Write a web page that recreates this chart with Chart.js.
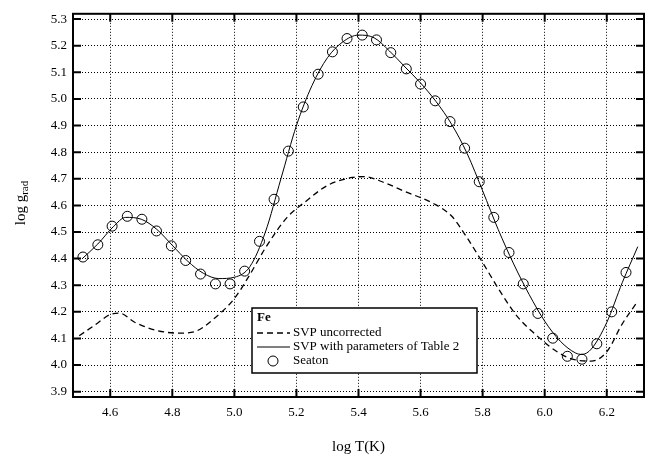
<!DOCTYPE html>
<html>
<head>
<meta charset="utf-8">
<script src="https://cdn.jsdelivr.net/npm/chart.js@4.4.0/dist/chart.umd.min.js"></script>
<style>
html, body { margin: 0; padding: 0; background: #fff; }
#wrap { width: 660px; height: 462px; }
</style>
</head>
<body>
<div id="wrap"><canvas id="myChart" width="660" height="462"></canvas></div>
<script>
// tick labels
var xTicks = [4.6, 4.8, 5.0, 5.2, 5.4, 5.6, 5.8, 6.0, 6.2];
var yTicks = [3.9, 4.0, 4.1, 4.2, 4.3, 4.4, 4.5, 4.6, 4.7, 4.8, 4.9, 5.0, 5.1, 5.2, 5.3];

// Seaton points (log T, log g_rad)
var seatonT = [4.512, 4.560, 4.606, 4.655, 4.702, 4.749, 4.797, 4.843, 4.891, 4.939, 4.986, 5.033, 5.081,
    5.128, 5.174, 5.222, 5.270, 5.316, 5.363, 5.412, 5.458, 5.504, 5.554, 5.600, 5.647, 5.695, 5.742,
    5.789, 5.836, 5.885, 5.931, 5.978, 6.026, 6.073, 6.120, 6.168, 6.216, 6.262];
var seatonG = [4.406, 4.452, 4.522, 4.559, 4.548, 4.504, 4.448, 4.393, 4.342, 4.305, 4.305, 4.353, 4.465,
    4.623, 4.804, 4.970, 5.093, 5.177, 5.227, 5.240, 5.222, 5.174, 5.113, 5.056, 4.993, 4.915, 4.815,
    4.689, 4.555, 4.423, 4.305, 4.194, 4.101, 4.033, 4.022, 4.080, 4.200, 4.348];

// SVP with parameters of Table 2
var svpT = [4.51, 4.56, 4.61, 4.65, 4.70, 4.75, 4.80, 4.85, 4.90, 4.95, 5.00, 5.05, 5.10, 5.15, 5.20,
    5.25, 5.30, 5.35, 5.40, 5.45, 5.50, 5.55, 5.60, 5.65, 5.70, 5.75, 5.80, 5.85, 5.90, 5.95, 6.00,
    6.05, 6.10, 6.12, 6.15, 6.20, 6.25, 6.30];
var svpG = [4.400, 4.455, 4.520, 4.555, 4.548, 4.510, 4.450, 4.390, 4.345, 4.325, 4.330, 4.370, 4.500,
    4.700, 4.900, 5.050, 5.155, 5.215, 5.240, 5.230, 5.180, 5.120, 5.060, 4.990, 4.905, 4.795, 4.655,
    4.510, 4.380, 4.265, 4.165, 4.090, 4.045, 4.040, 4.060, 4.160, 4.310, 4.445];

// SVP uncorrected
var rawT = [4.50, 4.55, 4.60, 4.63, 4.68, 4.75, 4.82, 4.87, 4.94, 5.00, 5.05, 5.10, 5.17, 5.23, 5.30,
    5.38, 5.42, 5.48, 5.55, 5.64, 5.70, 5.75, 5.80, 5.86, 5.91, 5.98, 6.04, 6.09, 6.15, 6.20, 6.25, 6.30];
var rawG = [4.110, 4.150, 4.190, 4.195, 4.160, 4.130, 4.120, 4.125, 4.180, 4.250, 4.340, 4.440, 4.555,
    4.615, 4.675, 4.705, 4.708, 4.687, 4.652, 4.608, 4.560, 4.478, 4.385, 4.270, 4.185, 4.105, 4.050,
    4.022, 4.015, 4.050, 4.155, 4.240];

function pts(xs, ys) {
    return xs.map(function (x, i) { return { x: x, y: ys[i] }; });
}

var serif = '"Liberation Serif", "DejaVu Serif", serif';

// frame, inward ticks on all sides, axis titles and the boxed legend
var decor = {
    id: 'decor',
    afterDraw: function (chart) {
        var c = chart.ctx, a = chart.chartArea;
        var sx = chart.scales.x, sy = chart.scales.y;
        c.save();
        c.strokeStyle = '#000';
        c.lineWidth = 2;
        c.setLineDash([]);
        c.strokeRect(a.left, a.top, a.right - a.left, a.bottom - a.top);
        c.beginPath();
        xTicks.forEach(function (v) {
            var px = sx.getPixelForValue(v);
            c.moveTo(px, a.bottom); c.lineTo(px, a.bottom - 8);
            c.moveTo(px, a.top); c.lineTo(px, a.top + 8);
        });
        yTicks.forEach(function (v) {
            var py = sy.getPixelForValue(v);
            c.moveTo(a.left, py); c.lineTo(a.left + 8, py);
            c.moveTo(a.right, py); c.lineTo(a.right - 8, py);
        });
        c.stroke();

        // titles
        c.fillStyle = '#000';
        c.font = '15px ' + serif;
        c.textAlign = 'center';
        c.textBaseline = 'middle';
        c.fillText('log T(K)', (a.left + a.right) / 2, 447);

        c.save();
        c.translate(21, 203);
        c.rotate(-Math.PI / 2);
        c.textAlign = 'left';
        c.textBaseline = 'alphabetic';
        var main = 'log g';
        c.font = '15px ' + serif;
        var w1 = c.measureText(main).width;
        c.font = '11px ' + serif;
        var w2 = c.measureText('rad').width;
        var x0 = -(w1 + w2) / 2;
        c.font = '15px ' + serif;
        c.fillText(main, x0, 4);
        c.font = '11px ' + serif;
        c.fillText('rad', x0 + w1, 7);
        c.restore();

        // legend box
        var lx = 252, ly = 308, lw = 225, lh = 65;
        c.fillStyle = '#fff';
        c.fillRect(lx, ly, lw, lh);
        c.lineWidth = 1.5;
        c.strokeStyle = '#000';
        c.strokeRect(lx, ly, lw, lh);
        c.fillStyle = '#000';
        c.textAlign = 'left';
        c.textBaseline = 'middle';
        c.font = 'bold 13px ' + serif;
        c.fillText('Fe', lx + 5, ly + 10);
        c.font = '13px ' + serif;
        var ds = chart.data.datasets;
        var rows = [ly + 25, ly + 39, ly + 53];
        [0, 1].forEach(function (k) {
            c.lineWidth = ds[k].borderWidth;
            c.setLineDash(ds[k].borderDash || []);
            c.beginPath();
            c.moveTo(lx + 5, rows[k]); c.lineTo(lx + 38, rows[k]);
            c.stroke();
            c.setLineDash([]);
            c.fillText(ds[k].label, lx + 41, rows[k]);
        });
        c.lineWidth = 1;
        c.beginPath();
        c.arc(lx + 21, rows[2], 5, 0, Math.PI * 2);
        c.stroke();
        c.fillText(ds[2].label, lx + 41, rows[2]);
        c.restore();
    }
};

var ctx = document.getElementById('myChart').getContext('2d');

var chart = new Chart(ctx, {
    type: 'scatter',
    data: {
        datasets: [{
            label: 'SVP uncorrected',
            data: pts(rawT, rawG),
            showLine: true,
            borderColor: '#000',
            borderWidth: 1.3,
            borderDash: [6, 4],
            pointRadius: 0,
            cubicInterpolationMode: 'monotone'
        },
        {
            label: 'SVP with parameters of Table 2',
            data: pts(svpT, svpG),
            showLine: true,
            borderColor: '#000',
            borderWidth: 1,
            pointRadius: 0,
            cubicInterpolationMode: 'monotone'
        },
        {
            label: 'Seaton',
            data: pts(seatonT, seatonG),
            showLine: false,
            borderColor: '#000',
            backgroundColor: 'rgba(0,0,0,0)',
            borderWidth: 1,
            pointRadius: 5
        }]
    },
    options: {
        responsive: false,
        animation: false,
        devicePixelRatio: 1,
        layout: { padding: { left: 0, right: 16, top: 3, bottom: 0 } },
        plugins: {
            legend: { display: false },
            tooltip: { enabled: false }
        },
        scales: {
            x: {
                type: 'linear',
                min: 4.48,
                max: 6.32,
                afterBuildTicks: function (axis) {
                    axis.ticks = xTicks.map(function (v) { return { value: v }; });
                },
                afterFit: function (axis) { axis.height = 65; },
                ticks: {
                    color: '#000',
                    padding: 8,
                    font: { family: serif, size: 13 },
                    callback: function (v) { return Number(v).toFixed(1); }
                },
                grid: { color: '#000', lineWidth: 1, drawTicks: false },
                border: { display: false, dash: [1, 2] }
            },
            y: {
                type: 'linear',
                min: 3.88,
                max: 5.32,
                afterBuildTicks: function (axis) {
                    axis.ticks = yTicks.map(function (v) { return { value: v }; });
                },
                afterFit: function (axis) { axis.width = 73; },
                ticks: {
                    color: '#000',
                    padding: 6,
                    font: { family: serif, size: 13 },
                    callback: function (v) { return Number(v).toFixed(1); }
                },
                grid: { color: '#000', lineWidth: 1, drawTicks: false },
                border: { display: false, dash: [1, 2] }
            }
        }
    },
    plugins: [decor]
});
</script>
</body>
</html>
